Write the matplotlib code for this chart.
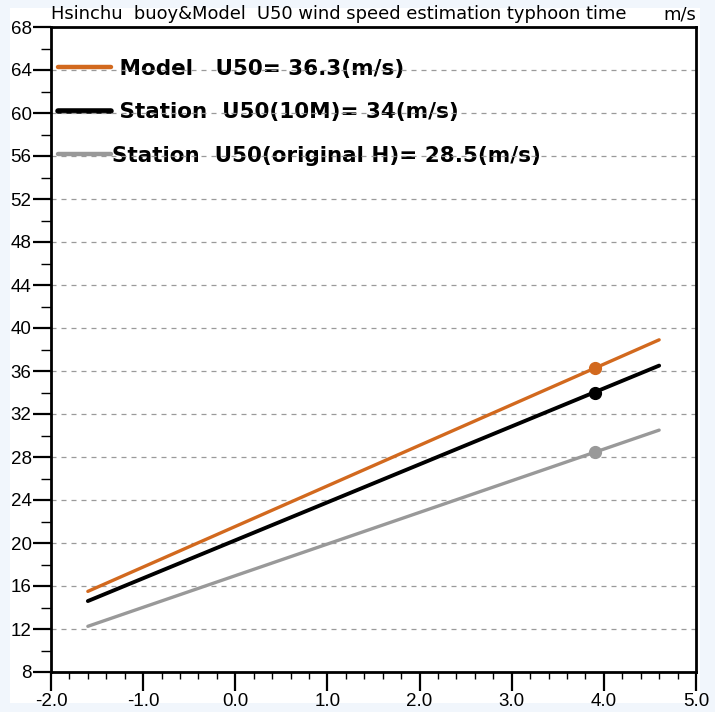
#!/usr/bin/env python3
'''
Hsinchu buoy & Model U50 wind speed estimation (typhoon time).
Gumbel fit lines vs reduced variate, with the 50-year value marked.
'''

import matplotlib
matplotlib.use('Agg')
from matplotlib import pyplot as plt
from matplotlib.patches import Rectangle

#
#   Data
#
series_names = ['Model', 'Station 10M', 'Station original H']
legend_labels = [' Model   U50= 36.3(m/s)',
                 ' Station  U50(10M)= 34(m/s)',
                 'Station  U50(original H)= 28.5(m/s)']
line_x = [-1.6, 4.6]                       # reduced variate end points
model_y = [15.5, 38.9]
station10_y = [14.6, 36.5]
station_orig_y = [12.25, 30.5]
u50_x = 3.902                              # -ln(-ln(1 - 1/50))
u50_values = [36.3, 34.0, 28.5]

y_ticks = list(range(8, 69, 4))
x_ticks = [-2.0, -1.0, 0.0, 1.0, 2.0, 3.0, 4.0, 5.0]

colors = ['#d2691e', '#000000', '#999999']
line_widths = [2.4, 2.8, 2.4]
legend_widths = [3.2, 4.0, 3.2]

#
#   Figure
#
plt.rcParams['font.family'] = ['Liberation Sans', 'DejaVu Sans']

fig = plt.figure(figsize=(7.15, 7.12), dpi=100)
fig.patch.set_facecolor('#f1f6fc')
# white page area inside the light blue margin
fig.patches.append(Rectangle((10 / 715, 9 / 712), 690 / 715, 695 / 712,
                             transform=fig.transFigure, facecolor='white',
                             edgecolor='none', zorder=-5))

ax = fig.add_axes([51 / 715, 1 - 672 / 712, 645 / 715, 645 / 712])
ax.set_zorder(2)
ax.set_facecolor('white')

all_y = [model_y, station10_y, station_orig_y]
for i in range(3):
    ax.plot(line_x, all_y[i], color=colors[i], lw=line_widths[i],
            solid_capstyle='round', zorder=3, label=legend_labels[i])
    ax.plot([u50_x], [u50_values[i]], 'o', color=colors[i], ms=8.5,
            zorder=4)

ax.set_xlim(-2.0, 5.0)
ax.set_ylim(8, 68)
ax.set_xticks(x_ticks)
ax.set_xticklabels(['{:.1f}'.format(v) for v in x_ticks])
ax.set_xticks([x_ticks[0] + 0.2 * k for k in range(36)], minor=True)
ax.set_yticks(y_ticks)
ax.set_yticks(list(range(8, 69, 2)), minor=True)

ax.tick_params(axis='both', which='major', direction='out', length=13,
               width=1.6, labelsize=13.5, pad=1, colors='black')
ax.tick_params(axis='y', which='minor', direction='out', length=7,
               width=1.0)
ax.tick_params(axis='x', which='major', length=14)
ax.tick_params(axis='x', which='minor', direction='out', length=5,
               width=1.0)

for side in ['left', 'right', 'top', 'bottom']:
    ax.spines[side].set_linewidth(2.0)

# dashed horizontal grid at every major y tick
ax.set_axisbelow('line')
ax.yaxis.grid(True, color='#9a9a9a', lw=0.9, dashes=(4, 4))
ax.xaxis.grid(False)

leg = ax.legend(loc='upper left', bbox_to_anchor=(0.011, 0.951),
                frameon=False, handlelength=2.45, handletextpad=0.05,
                labelspacing=1.1, borderaxespad=0.0, borderpad=0.0,
                prop={'weight': 'bold', 'size': 15.5,
                      'family': 'DejaVu Sans'})
for h, w in zip(leg.get_lines(), legend_widths):
    h.set_linewidth(w)
leg.set_zorder(1)

# title line above the frame
ax.text(0.0, 1.006, 'Hsinchu  buoy&Model  U50 wind speed estimation typhoon time',
        transform=ax.transAxes, ha='left', va='bottom', fontsize=12.9,
        family='DejaVu Sans')
ax.text(1.0, 1.006, 'm/s', transform=ax.transAxes, ha='right',
        va='bottom', fontsize=12.9, family='DejaVu Sans')

fig.savefig('out.png', dpi=100, facecolor=fig.get_facecolor())
plt.close(fig)
